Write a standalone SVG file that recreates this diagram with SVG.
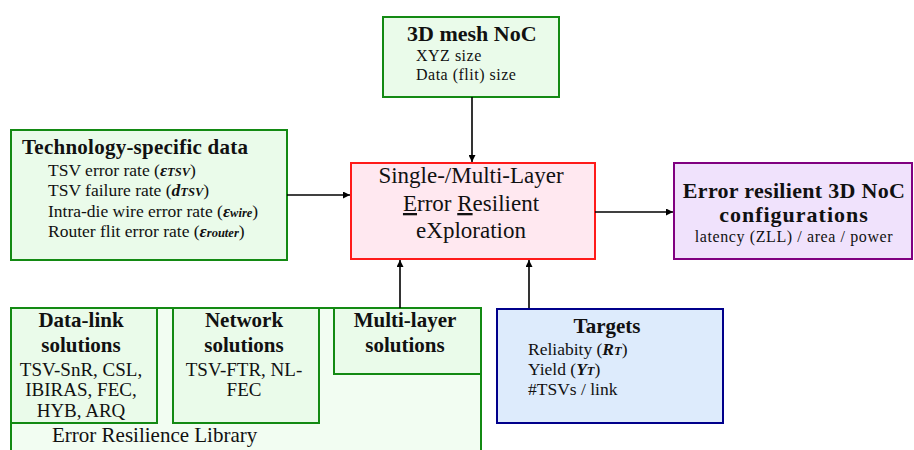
<svg xmlns="http://www.w3.org/2000/svg" width="914" height="450" viewBox="0 0 914 450">
<defs>
<style>
text{font-family:"Liberation Serif","Times New Roman",serif;fill:#111;}
.b{font-weight:bold;}
.t23{font-size:23px;}
.t22{font-size:22px;}
.t21{font-size:21px;}
.t19{font-size:19px;}
.t17{font-size:17.5px;}
.t16{font-size:16px;}
.mid{text-anchor:middle;}
.g{fill:#eafbea;stroke:#138a13;stroke-width:2;}
.gl{fill:#f2fdf2;stroke:#138a13;stroke-width:2;}
.sub{font-size:12.5px;font-weight:bold;font-style:italic;}
.conn{stroke:#000;stroke-width:1.6;fill:none;marker-end:url(#ah);}
</style>
<marker id="ah" viewBox="0 0 10 10" refX="10" refY="5" markerWidth="7" markerHeight="7" markerUnits="userSpaceOnUse" orient="auto">
<path d="M0,0 L10,5 L0,10 z" fill="#000"/>
</marker>
</defs>
<rect width="914" height="450" fill="#fff"/>

<g id="mesh">
<rect x="383" y="17" width="176" height="80" class="g"/>
<text x="407" y="41" class="b t22">3D mesh NoC</text>
<text x="416" y="61" class="t16" letter-spacing="0.5">XYZ size</text>
<text x="416" y="80" class="t16" letter-spacing="0.5">Data (flit) size</text>
</g>

<g id="tech">
<rect x="11" y="130" width="276" height="130" class="g"/>
<text x="22" y="154" class="b t21" textLength="226">Technology-specific data</text>
<text x="48" y="176" class="t17">TSV error rate (<tspan font-style="italic" font-weight="bold">ε</tspan><tspan class="sub">TSV</tspan>)</text>
<text x="48" y="196" class="t17">TSV failure rate (<tspan font-style="italic" font-weight="bold">d</tspan><tspan class="sub">TSV</tspan>)</text>
<text x="48" y="217" class="t17">Intra-die wire error rate (<tspan font-style="italic" font-weight="bold">ε</tspan><tspan class="sub">wire</tspan>)</text>
<text x="48" y="237" class="t17">Router flit error rate (<tspan font-style="italic" font-weight="bold">ε</tspan><tspan class="sub">router</tspan>)</text>
</g>

<g id="explore">
<rect x="351" y="163" width="244" height="96" fill="#ffe8f0" stroke="#ff1a1a" stroke-width="2"/>
<text x="471" y="183" class="t23 mid">Single-/Multi-Layer</text>
<text x="471" y="211" class="t23 mid"><tspan text-decoration="underline">E</tspan>rror <tspan text-decoration="underline">R</tspan>esilient</text>
<text x="471" y="238" class="t23 mid">eXploration</text>
</g>

<g id="result">
<rect x="674" y="163" width="238" height="96" fill="#f0e2fc" stroke="#800080" stroke-width="2"/>
<text x="794" y="198" class="b t22 mid" letter-spacing="0.3">Error resilient 3D NoC</text>
<text x="794" y="222" class="b t22 mid" letter-spacing="1">configurations</text>
<text x="794" y="242" class="t16 mid" letter-spacing="0.6">latency (ZLL) / area / power</text>
</g>

<g id="library">
<rect x="11" y="308" width="470" height="160" class="gl"/>
<text x="52" y="442" class="t21">Error Resilience Library</text>
</g>

<g id="datalink">
<rect x="11" y="308" width="146" height="115" class="g"/>
<text x="81" y="327" class="b t21 mid">Data-link</text>
<text x="81" y="352" class="b t21 mid">solutions</text>
<text x="81" y="376" class="t19 mid">TSV-SnR, CSL,</text>
<text x="81" y="396" class="t19 mid">IBIRAS, FEC,</text>
<text x="81" y="417" class="t19 mid">HYB, ARQ</text>
</g>

<g id="network">
<rect x="173" y="308" width="146" height="115" class="g"/>
<text x="244" y="327" class="b t21 mid">Network</text>
<text x="244" y="352" class="b t21 mid">solutions</text>
<text x="244" y="376" class="t19 mid">TSV-FTR, NL-</text>
<text x="244" y="396" class="t19 mid">FEC</text>
</g>

<g id="multilayer">
<rect x="334" y="308" width="147" height="66" class="g"/>
<text x="405" y="327" class="b t21 mid">Multi-layer</text>
<text x="405" y="352" class="b t21 mid">solutions</text>
</g>

<g id="targets">
<rect x="497" y="309" width="226" height="114" fill="#ddebfc" stroke="#00008b" stroke-width="2"/>
<text x="607" y="333" class="b t21 mid">Targets</text>
<text x="528" y="355" class="t17">Reliabity (<tspan font-weight="bold" font-style="italic">R</tspan><tspan class="sub">T</tspan>)</text>
<text x="528" y="375" class="t17">Yield (<tspan font-weight="bold" font-style="italic">Y</tspan><tspan class="sub">T</tspan>)</text>
<text x="528" y="395" class="t17">#TSVs / link</text>
</g>

<g id="connectors">
<line x1="472" y1="97" x2="472" y2="162" class="conn"/>
<line x1="287" y1="195" x2="350" y2="195" class="conn"/>
<line x1="595" y1="212" x2="673" y2="212" class="conn"/>
<line x1="400" y1="308" x2="400" y2="260" class="conn"/>
<line x1="529" y1="308" x2="529" y2="260" class="conn"/>
</g>
</svg>
